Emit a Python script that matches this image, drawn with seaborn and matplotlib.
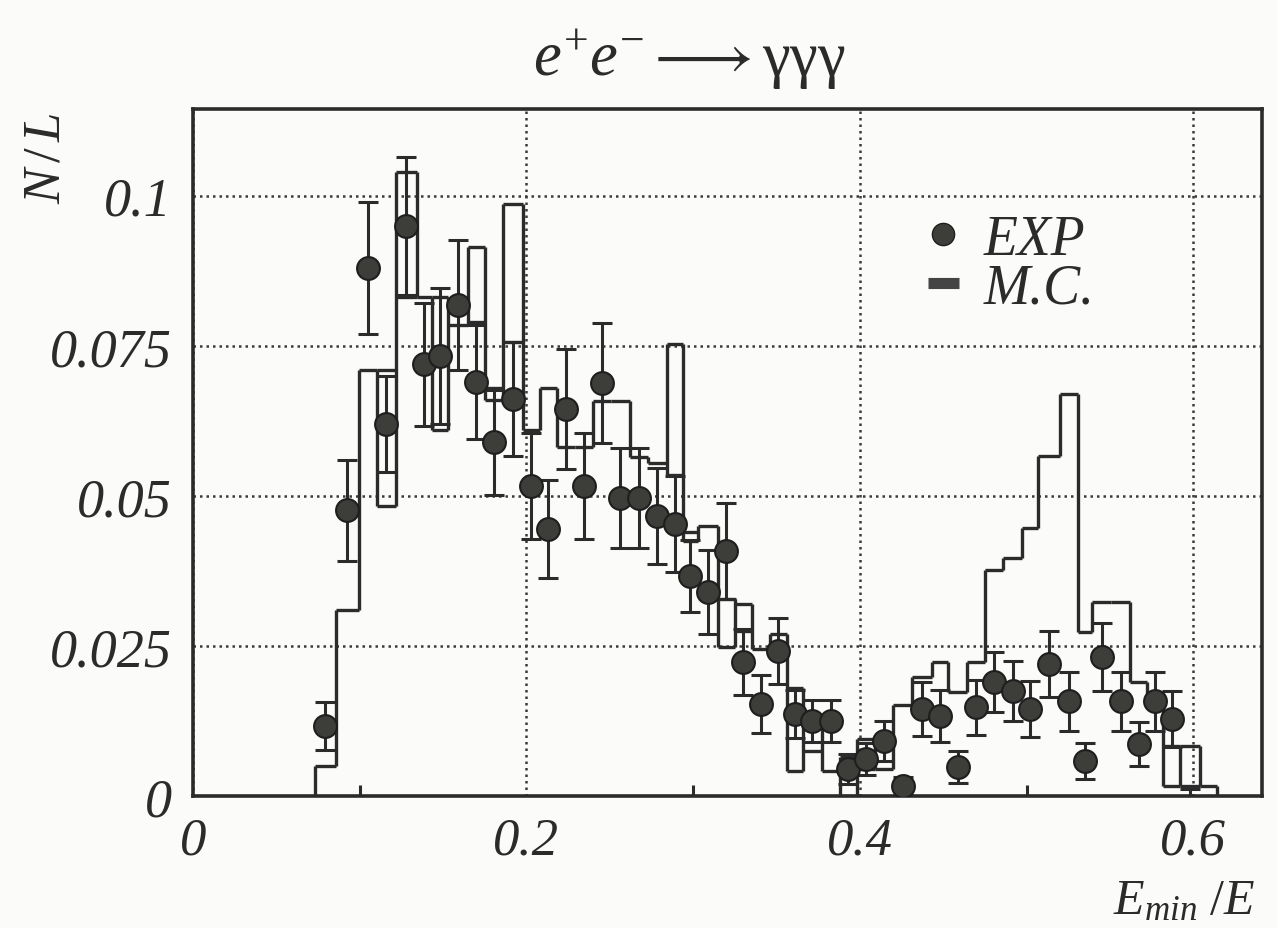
import numpy as np
import matplotlib
matplotlib.use("Agg")
import matplotlib.pyplot as plt
from matplotlib.lines import Line2D
import seaborn as sns

# Bin edges in E_min/E (shared by data and simulation)
bin_edges = [0.0732, 0.0858, 0.0996, 0.1104, 0.1218, 0.1344, 0.1434, 0.1530, 0.1650,
             0.1752, 0.1860, 0.1980, 0.2082, 0.2184, 0.2292, 0.2400, 0.2508, 0.2621,
             0.2729, 0.2843, 0.2939, 0.3029, 0.3149, 0.3251, 0.3353, 0.3461, 0.3563,
             0.3659, 0.3773, 0.3881, 0.3983, 0.4091, 0.4199, 0.4313, 0.4433, 0.4529,
             0.4643, 0.4751, 0.4859, 0.4973, 0.5069, 0.5201, 0.5309, 0.5393, 0.5507,
             0.5621, 0.5723, 0.5819, 0.5921, 0.6041, 0.6143]

# Measured spectrum (EXP): N/L per bin and its statistical error
exp_vals = [0.0116, 0.0476, 0.0880, 0.0620, 0.0949, 0.0719, 0.0733, 0.0818, 0.0690,
            0.0589, 0.0661, 0.0517, 0.0445, 0.0644, 0.0517, 0.0688, 0.0497, 0.0497,
            0.0467, 0.0453, 0.0367, 0.0340, 0.0408, 0.0223, 0.0153, 0.0242, 0.0137,
            0.0125, 0.0125, 0.0045, 0.0062, 0.0092, 0.0017, 0.0145, 0.0133, 0.0048,
            0.0148, 0.0190, 0.0175, 0.0145, 0.0220, 0.0158, 0.0058, 0.0232, 0.0158,
            0.0087, 0.0158, 0.0128, 0.0000]
exp_errs = [0.0040, 0.0084, 0.0110, 0.0080, 0.0115, 0.0103, 0.0113, 0.0108, 0.0095,
            0.0087, 0.0095, 0.0088, 0.0081, 0.0100, 0.0088, 0.0100, 0.0083, 0.0083,
            0.0080, 0.0080, 0.0060, 0.0070, 0.0080, 0.0055, 0.0048, 0.0055, 0.0040,
            0.0035, 0.0035, 0.0025, 0.0027, 0.0033, 0.0015, 0.0045, 0.0043, 0.0027,
            0.0046, 0.0050, 0.0050, 0.0046, 0.0055, 0.0049, 0.0030, 0.0057, 0.0049,
            0.0037, 0.0049, 0.0047, 0.0012]

# Monte Carlo prediction (M.C.): upper and lower edge of each bin's band
mc_hi = [0.0050, 0.0310, 0.0709, 0.0709, 0.1040, 0.0832, 0.0832, 0.0784, 0.0914,
         0.0680, 0.0986, 0.0610, 0.0680, 0.0582, 0.0582, 0.0658, 0.0658, 0.0565,
         0.0555, 0.0753, 0.0440, 0.0450, 0.0328, 0.0320, 0.0245, 0.0270, 0.0180,
         0.0128, 0.0042, 0.0065, 0.0095, 0.0095, 0.0152, 0.0199, 0.0224, 0.0174,
         0.0224, 0.0376, 0.0397, 0.0447, 0.0567, 0.0670, 0.0273, 0.0323, 0.0323,
         0.0190, 0.0167, 0.0083, 0.0083, 0.0017]
mc_lo = [0.0050, 0.0310, 0.0709, 0.0483, 0.0832, 0.0832, 0.0610, 0.0784, 0.0790,
         0.0660, 0.0757, 0.0610, 0.0680, 0.0582, 0.0582, 0.0658, 0.0658, 0.0565,
         0.0555, 0.0534, 0.0425, 0.0450, 0.0248, 0.0275, 0.0245, 0.0245, 0.0042,
         0.0075, 0.0042, 0.0000, 0.0045, 0.0045, 0.0152, 0.0199, 0.0224, 0.0174,
         0.0224, 0.0376, 0.0397, 0.0447, 0.0567, 0.0670, 0.0273, 0.0323, 0.0323,
         0.0190, 0.0167, 0.0017, 0.0017, 0.0017]

x_ticks = [0, 0.2, 0.4, 0.6]
x_tick_labels = ["0", "0.2", "0.4", "0.6"]
y_ticks = [0, 0.025, 0.05, 0.075, 0.1]
y_tick_labels = ["0", "0.025", "0.05", "0.075", "0.1"]

INK = "#2b2b2b"
DOT = "#3a3a3a"
PAPER = "#fbfbf9"

sns.set_theme(style="white")
plt.rcParams["font.family"] = ["Liberation Serif", "DejaVu Serif"]
plt.rcParams["mathtext.fontset"] = "custom"
plt.rcParams["mathtext.rm"] = "Liberation Serif"
plt.rcParams["mathtext.it"] = "Liberation Serif:italic"

fig, ax = plt.subplots(figsize=(12.77, 9.29), dpi=100)
fig.patch.set_facecolor(PAPER)
ax.set_facecolor(PAPER)
fig.subplots_adjust(left=0.151, right=0.988, bottom=0.142, top=0.882)

edges = np.asarray(bin_edges)
hi = np.asarray(mc_hi)
lo = np.asarray(mc_lo)
centers = 0.5 * (edges[:-1] + edges[1:])
yv = np.asarray(exp_vals)
ye = np.asarray(exp_errs)

# dotted grid
ax.set_xticks(x_ticks)
ax.set_yticks(y_ticks)
ax.grid(True, linestyle=(0, (1.0, 1.6)), color=DOT, linewidth=1.8)
ax.set_axisbelow(True)

# M.C. histogram outline: top and bottom of every bin, joined at the edges
mc_lw = 2.4
ax.hlines(hi, edges[:-1], edges[1:], color=INK, linewidth=mc_lw, zorder=3)
band = hi > lo
ax.hlines(lo[band], edges[:-1][band], edges[1:][band], color=INK, linewidth=mc_lw, zorder=3)
prev_lo = np.concatenate([[0.0], lo])
next_lo = np.concatenate([lo, [0.0]])
prev_hi = np.concatenate([[0.0], hi])
next_hi = np.concatenate([hi, [0.0]])
ax.vlines(edges, np.minimum(prev_lo, next_lo), np.maximum(prev_hi, next_hi),
          color=INK, linewidth=mc_lw, zorder=3)

# EXP points with error bars
ax.errorbar(centers[:len(yv)], yv, yerr=ye, fmt="none", ecolor=INK,
            elinewidth=2.2, capsize=7, capthick=2.2, zorder=4)
shown = yv > 0
sns.scatterplot(x=centers[:len(yv)][shown], y=yv[shown], ax=ax, s=270,
                color="#3d3d3a", edgecolor="#1e1e1e", linewidth=1.5, zorder=5,
                legend=False)

ax.set_xlim(0, 0.641)
ax.set_ylim(0, 0.1145)

ax.set_xticklabels(x_tick_labels, fontsize=38, style="italic", color=INK)
ax.set_yticklabels(y_tick_labels, fontsize=39, style="italic", color=INK)
ax.xaxis.set_minor_locator(matplotlib.ticker.FixedLocator([0.1, 0.3, 0.5]))
ax.tick_params(axis="both", which="major", direction="in", length=12, width=2.2,
               color=INK)
ax.tick_params(axis="x", which="minor", direction="in", length=8, width=2.2,
               color=INK, bottom=True)
ax.tick_params(axis="x", which="major", pad=15)
ax.tick_params(axis="y", which="major", pad=15)

for side in ax.spines.values():
    side.set_color(INK)
    side.set_linewidth(2.6)

ax.set_ylabel(r"$N\,/\,L$", fontsize=38, color=INK)
ax.yaxis.set_label_coords(-0.114, 0.93)
ax.set_xlabel(r"$E_{min}\ /E$", fontsize=36, color=INK)
ax.xaxis.set_label_coords(0.928, -0.118)

fig.text(0.540, 0.935, r"$e^{+}e^{-}\longrightarrow\mathrm{\gamma\gamma\gamma}$",
         fontsize=45, color=INK, ha="center", va="center")

handles = [
    Line2D([], [], linestyle="none", marker="o", markersize=16,
           markerfacecolor="#3d3d3a", markeredgecolor="#1e1e1e"),
    Line2D([], [], color="#444444", linewidth=8, solid_capstyle="butt"),
]
ax.legend(handles, ["EXP", "M.C."], loc="upper left", bbox_to_anchor=(0.641, 0.92),
          frameon=False, handlelength=0.55, handletextpad=0.45, labelspacing=-0.06,
          prop={"family": "Liberation Serif", "style": "italic", "size": 40},
          labelcolor=INK)

fig.savefig("out.png", dpi=100, facecolor=fig.get_facecolor())
